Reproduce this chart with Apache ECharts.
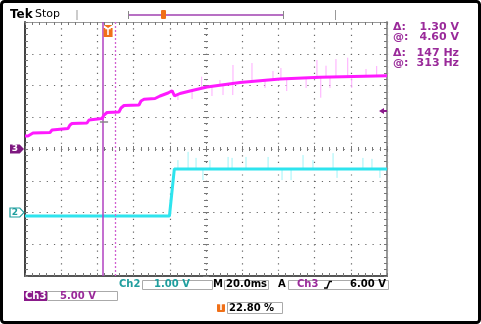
<!DOCTYPE html>
<html><head><meta charset="utf-8">
<script src="https://cdn.jsdelivr.net/npm/echarts@6/dist/echarts.min.js"></script>
<style>html,body{margin:0;padding:0;background:#fff}#c{width:481px;height:324px}</style>
</head><body><div id="c"></div>
<script>
// Time base: 20 ms/div, 10 divisions
const xTicks = [0, 20, 40, 60, 80, 100, 120, 140, 160, 180, 200];
// Ch3: 5.00 V/div, ground at centre
const ch3Time = [0, 1.66, 4.42, 13.81, 14.92, 16.02, 23.76, 24.86, 25.97, 34.25, 35.36, 36.46, 42.54, 43.65, 45.30, 51.93, 53.04, 54.70, 62.98, 64.09, 65.75, 71.82, 74.59, 79.01, 81.22, 82.60, 85.64, 91.16, 100.55, 118.78, 140.88, 162.98, 200];
const ch3Volt = [2.05, 2.05, 2.52, 2.60, 2.99, 3.15, 3.23, 3.78, 4.02, 4.09, 4.57, 4.72, 4.80, 5.35, 5.75, 5.83, 6.46, 6.85, 6.93, 7.56, 7.83, 7.95, 8.35, 8.82, 9.18, 8.35, 8.74, 9.13, 9.76, 10.47, 11.02, 11.29, 11.54];
// Ch3 noise spikes: time, low, high
const ch3SpikeT  = [84.5, 92.3, 97.6, 103.3, 107.7, 109.4, 114.8, 114.9, 125.4, 132.6, 137.0, 141.4, 144.6, 155.3, 161.3, 163.4, 166.3, 168.5, 171.8, 178.3, 180.5, 188.4, 194.3];
const ch3SpikeLo = [7.72, 7.87, 9.6, 8.35, 10.0, 8.5, 8.5, 10.3, 10.6, 9.61, 10.9, 11.0, 9.13, 9.61, 11.3, 8.08, 11.3, 9.61, 11.3, 11.4, 9.61, 11.4, 11.5];
const ch3SpikeHi = [8.7, 9.1, 11.39, 9.8, 10.87, 10.2, 10.3, 13.23, 13.54, 10.9, 12.28, 12.76, 11.0, 11.2, 14.02, 11.3, 13.12, 11.3, 14.17, 14.38, 11.4, 12.6, 13.07];
// Ch2: 1.00 V/div, ground 2 div below centre
const ch2Time = [0, 79.8, 82.5, 200];
const ch2Volt = [-0.11, -0.11, 1.37, 1.37];
const ch2SpikeT  = [84.5, 90.1, 94.5, 98.3, 102.2, 112.2, 114.4, 122.1, 134.3, 142.0, 147.0, 153.6, 159.1, 170.2, 172.4, 186.7, 191.7, 196.1];
const ch2SpikeLo = [1.37, 1.37, 1.37, 1.02, 1.37, 1.37, 1.37, 1.37, 1.37, 1.02, 1.02, 1.37, 1.37, 1.37, 1.09, 1.37, 1.37, 1.09];
const ch2SpikeHi = [1.65, 1.91, 1.72, 1.37, 1.65, 1.75, 1.72, 1.75, 1.75, 1.37, 1.37, 1.81, 1.65, 1.87, 1.37, 1.72, 1.69, 1.37];
// Cursors (ms) and trigger
const cursorTimes = [43.0, 49.8];
const triggerTime = 45.9;
const triggerLevel = 6.0;

const F = '"DejaVu Sans", sans-serif';
const TEAL = '#1f9e9e', PURP = '#9a2a9a';
const zip = (a, b) => a.map((v, i) => [v, b[i]]);
const zip3 = (a, b, c) => a.map((v, i) => [v, b[i], c[i]]);

function ax(min, max, interval, extra) {
  return Object.assign({
    type: 'value', min, max, interval,
    axisLine: {show: true, onZero: false, lineStyle: {color: '#888', width: 1}},
    axisTick: {show: true, inside: true, length: 3, lineStyle: {color: '#777'}},
    minorTick: {show: true, splitNumber: 5, length: 3, lineStyle: {color: '#777'}},
    axisLabel: {show: false}, splitLine: {show: false}
  }, extra || {});
}
const hidden = (min, max, gi) => ({type: 'value', min, max, show: false, gridIndex: gi});
const centreTick = {show: true, inside: true, length: 3, lineStyle: {color: '#777'}};
const centreMinor = {show: true, splitNumber: 5, length: 2, lineStyle: {color: '#777'}};
const noLine = {show: false, onZero: false};

function spikeRender(color) {
  return function (params, api) {
    const p1 = api.coord([api.value(0), api.value(1)]);
    const p2 = api.coord([api.value(0), api.value(2)]);
    return {type: 'line', shape: {x1: p1[0], y1: p1[1], x2: p2[0], y2: p2[1]}, style: {stroke: color, lineWidth: 1}};
  };
}
function txt(text, x, y, fill, size, opts) {
  return {type: 'text', x, y, z: 50, style: {text, fill, font: (opts && opts.w || 'bold') + ' ' + size + 'px ' + F, align: (opts && opts.a) || 'left', verticalAlign: 'middle'}};
}
function box(x, y, w, h) {
  return {type: 'rect', z: 40, shape: {x, y, width: w, height: h}, style: {fill: '#fff', stroke: '#aaa', lineWidth: 1}};
}
function seg(x1, y1, x2, y2, c, w) {
  return {type: 'line', z: 40, shape: {x1, y1, x2, y2}, style: {stroke: c, lineWidth: w || 1}};
}

const chart = echarts.init(document.getElementById('c'), null, {renderer: 'canvas'});
chart.setOption({
  animation: false,
  backgroundColor: '#fff',
  grid: [
    {left: 25, top: 22, width: 362, height: 254},
    {left: 25, top: 22, width: 362, height: 127},
    {left: 25, top: 149, width: 362, height: 127},
    {left: 25, top: 22, width: 181, height: 254},
    {left: 206, top: 22, width: 181, height: 254}
  ],
  xAxis: [
    ax(xTicks[0], xTicks[xTicks.length - 1], 20, {gridIndex: 0, position: 'bottom',
      axisLine: {show: true, onZero: false, lineStyle: {color: '#555', width: 2}},
      splitLine: {show: true, lineStyle: {color: '#666', width: 1.2, type: [1.2, 5.15]}}}),
    ax(0, 200, 20, {gridIndex: 0, position: 'top', axisLine: {show: true, onZero: false, lineStyle: {color: '#999', width: 1}}}),
    ax(0, 200, 20, {gridIndex: 1, position: 'bottom', axisLine: noLine, axisTick: centreTick, minorTick: centreMinor}),
    ax(0, 200, 20, {gridIndex: 2, position: 'top', axisLine: noLine, axisTick: centreTick, minorTick: centreMinor}),
    hidden(0, 1, 3),
    hidden(0, 1, 4)
  ],
  yAxis: [
    ax(-20, 20, 5, {gridIndex: 0, position: 'left',
      axisLine: {show: true, onZero: false, lineStyle: {color: '#444', width: 2}},
      splitLine: {show: true, lineStyle: {color: '#666', width: 1.2, type: [1.2, 6.04]}}}),
    ax(-2, 6, 1, {gridIndex: 0, position: 'right', axisLine: {show: true, onZero: false, lineStyle: {color: '#999', width: 2}}}),
    hidden(0, 1, 1),
    hidden(0, 1, 2),
    ax(-20, 20, 5, {gridIndex: 3, position: 'right', axisLine: noLine, axisTick: centreTick, minorTick: centreMinor}),
    ax(-20, 20, 5, {gridIndex: 4, position: 'left', axisLine: noLine, axisTick: centreTick, minorTick: centreMinor})
  ],
  series: [
    {type: 'custom', xAxisIndex: 0, yAxisIndex: 1, z: 2, data: zip3(ch2SpikeT, ch2SpikeLo, ch2SpikeHi),
      encode: {x: 0, y: [1, 2]}, renderItem: spikeRender('#9ff4f8')},
    {type: 'line', xAxisIndex: 0, yAxisIndex: 1, z: 3, data: zip(ch2Time, ch2Volt), showSymbol: false, symbol: 'none',
      lineStyle: {color: '#2ee4ee', width: 3}, clip: false,
      markPoint: {silent: true, data: [{coord: [0, 0], symbol: 'path://M0,0 L9,0 L13,4.5 L9,9 L0,9 Z', symbolSize: [14, 9], symbolOffset: [-8, 0],
        itemStyle: {color: '#fff', borderColor: '#1f9e9e', borderWidth: 1},
        label: {show: true, formatter: '2', color: TEAL, fontWeight: 'bold', fontSize: 9, fontFamily: F, offset: [-2, 0]}}]}},
    {type: 'custom', xAxisIndex: 0, yAxisIndex: 0, z: 4, data: zip3(ch3SpikeT, ch3SpikeLo, ch3SpikeHi),
      encode: {x: 0, y: [1, 2]}, renderItem: spikeRender('#ffaaff')},
    {type: 'line', xAxisIndex: 0, yAxisIndex: 0, z: 5, data: zip(ch3Time, ch3Volt), showSymbol: false, symbol: 'none',
      lineStyle: {color: '#ff1aff', width: 3}, clip: false,
      markPoint: {silent: true, data: [
        {coord: [0, 0], symbol: 'path://M0,0 L9,0 L13,4.5 L9,9 L0,9 Z', symbolSize: [14, 9], symbolOffset: [-8, 0],
          itemStyle: {color: '#7e1880'},
          label: {show: true, formatter: '3', color: '#fff', fontWeight: 'bold', fontSize: 9, fontFamily: F, offset: [-2, 0]}},
        {coord: [200, triggerLevel], symbol: 'path://M0,3 L5,0 L5,2 L8,2 L8,4 L5,4 L5,6 Z', symbolSize: [8, 6], symbolOffset: [-4, 0],
          itemStyle: {color: '#8a1a8a'}, label: {show: false}},
        {coord: [triggerTime, 20], symbol: 'path://M0,0 L8,0 L4,3 Z M0,3 L8,3 L8,12 L0,12 Z', symbolSize: [9, 12], symbolOffset: [0, 9],
          itemStyle: {color: '#f07018'},
          label: {show: true, formatter: 'T', color: '#fff', fontWeight: 'bold', fontSize: 8, fontFamily: F, offset: [0, 2]}}
      ]}},
    {type: 'line', xAxisIndex: 0, yAxisIndex: 0, z: 6, data: [], symbol: 'none',
      markLine: {silent: true, symbol: 'none', label: {show: false}, data: [
        {xAxis: cursorTimes[0], lineStyle: {color: '#b040c0', width: 1.5, type: 'solid'}},
        {xAxis: cursorTimes[1], lineStyle: {color: '#d060d0', width: 1.3, type: [2, 2]}},
        [{coord: [41.4, 4.33], lineStyle: {color: '#888', width: 1.5, type: 'solid'}}, {coord: [45.9, 4.33]}]
      ]}}
  ],
  graphic: [
    txt('Tek', 10, 14.5, '#000', 12),
    txt('Stop', 35, 14.5, '#000', 11, {w: 'normal'}),
    seg(77, 10, 77, 20, '#999'),
    seg(128.5, 11, 128.5, 19, '#888'),
    seg(129, 15, 283, 15, '#a040b0', 1.5),
    seg(283.5, 11, 283.5, 19, '#888'),
    {type: 'rect', z: 41, shape: {x: 161, y: 10, width: 5, height: 9, r: 1}, style: {fill: '#f07018'}},
    seg(335.5, 10, 335.5, 20, '#999'),
    txt('Δ:', 393, 27, PURP, 11), txt('1.30 V', 459, 27, PURP, 11, {a: 'right'}),
    txt('@:', 393, 37, PURP, 11), txt('4.60 V', 459, 37, PURP, 11, {a: 'right'}),
    txt('Δ:', 393, 53, PURP, 11), txt('147 Hz', 459, 53, PURP, 11, {a: 'right'}),
    txt('@:', 393, 63.5, PURP, 11), txt('313 Hz', 459, 63.5, PURP, 11, {a: 'right'}),
    txt('Ch2', 119, 284.5, TEAL, 10),
    box(142.5, 280.5, 70, 9), txt('1.00 V', 172, 284.5, TEAL, 10, {a: 'center'}),
    txt('M', 213, 284.5, '#000', 10),
    box(224.5, 280.5, 44, 9), txt('20.0ms', 226, 284.5, '#000', 10),
    txt('A', 278, 284.5, '#000', 10),
    box(288.5, 280.5, 100, 9), txt('Ch3', 297, 284.5, PURP, 10),
    {type: 'polyline', z: 45, shape: {points: [[324, 288], [327, 288], [329.5, 281.5], [332, 281.5]]}, style: {stroke: '#000', lineWidth: 1.5, fill: null}},
    txt('6.00 V', 386, 284.5, '#000', 10, {a: 'right'}),
    {type: 'rect', z: 41, shape: {x: 24, y: 291, width: 23, height: 10}, style: {fill: '#8a1a8a'}},
    txt('Ch3', 25, 296, '#fff', 10),
    box(47.5, 291.5, 70, 9), txt('5.00 V', 60, 296, PURP, 10),
    {type: 'rect', z: 41, shape: {x: 217, y: 304, width: 8, height: 8, r: 1}, style: {fill: '#f07018'}},
    txt('T', 221, 308, '#fff', 8, {a: 'center'}),
    box(227.5, 302.5, 55, 11), txt('22.80 %', 229, 308, '#000', 10),
    {type: 'rect', z: 100, shape: {x: 1.5, y: 1.5, width: 478, height: 321, r: 3}, style: {fill: null, stroke: '#000', lineWidth: 3}}
  ]
});
</script></body></html>
